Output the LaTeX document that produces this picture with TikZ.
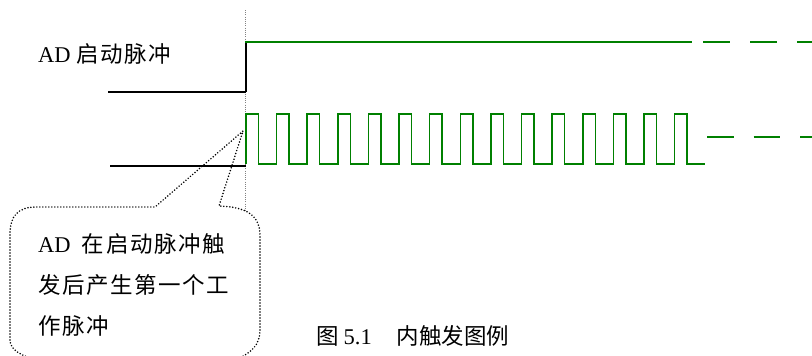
\documentclass[tikz,border=0pt]{standalone}
\usepackage{fontspec}
\setmainfont{Liberation Serif}
\newfontfamily\cjk{Noto Sans CJK SC}
\newfontfamily\cjkw{Noto Sans CJK SC}[LetterSpace=7]
\definecolor{wavegreen}{RGB}{0,128,0}
\definecolor{guidegray}{RGB}{130,130,130}
\tikzset{
  lowline/.style={draw=black, line width=1.6pt},
  edgeline/.style={draw=black, line width=2.6pt},
  wave/.style={draw=wavegreen, line width=1.5pt, line join=miter},
  wavedash/.style={draw=wavegreen, line width=1.5pt, dash pattern=on 27pt off 20pt},
  guide/.style={draw=guidegray, line width=0.7pt, dash pattern=on 1pt off 1.2pt},
  bubble/.style={draw=black, line width=1.7pt, line cap=round, dash pattern=on 0pt off 3pt},
  lbl/.style={inner sep=0pt, anchor=base west, font=\fontsize{22.5}{26}\selectfont},
}
\begin{document}
\begin{tikzpicture}[x=1pt, y=-1pt]
\useasboundingbox (0,0) rectangle (812,356);
\clip (0,0) rectangle (812,356);
% guide line
\coordinate (gtop) at (245.7,10);
\coordinate (gbot) at (245.7,211);
\draw[guide] (gtop) -- (gbot);
% start pulse
\coordinate (s0) at (108,91.7);
\coordinate (s1) at (246,91.7);
\coordinate (s2) at (246,43);
\draw[lowline] (s0) -- (s1);
\draw[edgeline] (s1) -- (s2);
\coordinate (h0) at (245,42);
\coordinate (h1) at (692,42);
\coordinate (h2) at (703,42);
\coordinate (h3) at (812,42);
\draw[wave] (h0) -- (h1);
\draw[wavedash] (h2) -- (h3);
% work pulses
\coordinate (w0) at (110,165.7);
\coordinate (w1) at (246,165.7);
\draw[lowline] (w0) -- (w1);
\draw[wave] (246,164)
  \foreach \k in {0,...,14} {
    -- ({246+30.62*\k},164) -- ({246+30.62*\k},114)
    -- ({258.5+30.62*\k},114) -- ({258.5+30.62*\k},164)
  } -- (705,164);
\coordinate (d0) at (707,137);
\coordinate (d1) at (812,137);
\draw[wavedash, dash pattern=on 26.5pt off 20pt] (d0) -- (d1);
% labels
\node[lbl] (start) at (38,62.5) {AD {\cjkw 启动脉冲}};
% callout
\coordinate (tip) at (243,131);
\draw[bubble] (10,340) -- (10,234)
  .. controls (10,216) and (18,207) .. (36,207)
  -- (155,207) -- (tip) -- (219,206)
  .. controls (248,207) and (260,216) .. (260,236)
  -- (260,330)
  .. controls (260,345) and (252,352) .. (236,360)
  -- (40,360)
  .. controls (22,357) and (10,350) .. (10,340);
\node[lbl] (c1) at (38,252) {AD\ \ {\cjkw 在启动脉冲触}};
\node[lbl] (c2) at (38,293.5) {\cjkw 发后产生第一个工};
\node[lbl] (c3) at (38,334.5) {\cjkw 作脉冲};
% caption
\node[lbl] (cap) at (316,344) {{\cjk 图}\hspace{5pt}5.1\hspace{25pt}{\cjk 内触发图例}};
\end{tikzpicture}
\end{document}
